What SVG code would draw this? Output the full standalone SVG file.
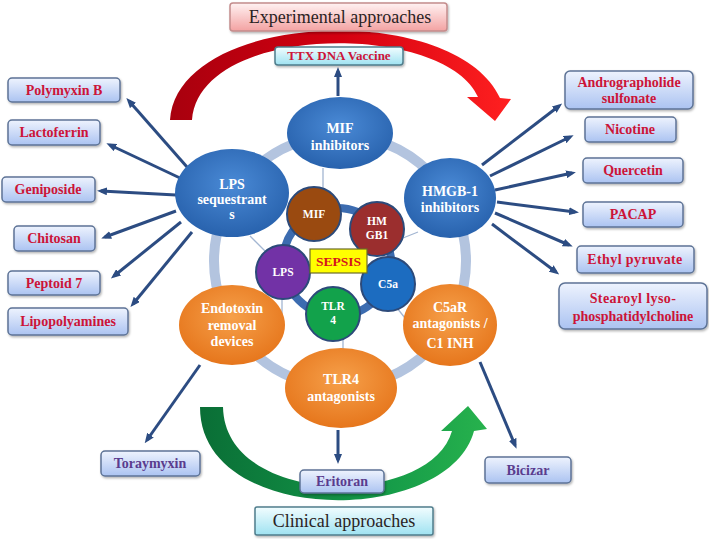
<svg xmlns="http://www.w3.org/2000/svg" width="709" height="539" viewBox="0 0 709 539">
<defs>
<linearGradient id="gBox" x1="0" y1="0" x2="0" y2="1"><stop offset="0" stop-color="#eef3fe"/><stop offset="1" stop-color="#abc3f1"/></linearGradient>
<linearGradient id="gCyan" x1="0" y1="0" x2="0" y2="1"><stop offset="0" stop-color="#f2fdff"/><stop offset="1" stop-color="#9fe2f1"/></linearGradient>
<linearGradient id="gPink" x1="0" y1="0" x2="0" y2="1"><stop offset="0" stop-color="#fff2f2"/><stop offset="1" stop-color="#f3a2a2"/></linearGradient>
<radialGradient id="gBlue" cx="0.5" cy="0.4" r="0.6"><stop offset="0" stop-color="#4a8ad6"/><stop offset="1" stop-color="#2862ad"/></radialGradient>
<radialGradient id="gOrange" cx="0.5" cy="0.4" r="0.6"><stop offset="0" stop-color="#f6a04a"/><stop offset="1" stop-color="#e6761c"/></radialGradient>
<linearGradient id="gRed" x1="0" y1="0" x2="1" y2="0"><stop offset="0" stop-color="#a8000e"/><stop offset="0.5" stop-color="#d40010"/><stop offset="1" stop-color="#ff2020"/></linearGradient>
<linearGradient id="gGreen" x1="0" y1="0" x2="1" y2="0"><stop offset="0" stop-color="#0a6e36"/><stop offset="0.6" stop-color="#139848"/><stop offset="1" stop-color="#27b24d"/></linearGradient>
<filter id="sh" x="-10%" y="-20%" width="130%" height="160%"><feDropShadow dx="1" dy="1.5" stdDeviation="1" flood-color="#000000" flood-opacity="0.3"/></filter>
<marker id="ah" markerUnits="userSpaceOnUse" markerWidth="10" markerHeight="8" refX="6" refY="4" orient="auto"><path d="M0,0 L10,4 L0,8 z" fill="#2c4c82"/></marker>
<style>
.box{fill:url(#gBox);stroke:#5d7396;stroke-width:1.5;filter:url(#sh)}
.cyan{fill:url(#gCyan);stroke:#4f7d8c;stroke-width:1.5;filter:url(#sh)}
.pink{fill:url(#gPink);stroke:#c48c8c;stroke-width:1.5;filter:url(#sh)}
.bt{font-family:"Liberation Serif",serif;font-weight:bold;font-size:14px;fill:#cc1438;text-anchor:middle}
.pt{font-family:"Liberation Serif",serif;font-weight:bold;font-size:14px;fill:#5a3c8e;text-anchor:middle}
.hd{font-family:"Liberation Serif",serif;font-size:18px;fill:#2a2323;text-anchor:middle}
.bl{fill:url(#gBlue)}
.or{fill:url(#gOrange)}
.et{font-family:"Liberation Serif",serif;font-weight:bold;font-size:14px;fill:#ffffff;text-anchor:middle}
.ct{font-family:"Liberation Serif",serif;font-weight:bold;font-size:11.5px;fill:#ffffff;text-anchor:middle}
.cc{stroke:#2c4a7a;stroke-width:2}
.ar{stroke:#2c4c82;stroke-width:3;fill:none;marker-end:url(#ah)}
.thin{stroke:#a3b6d2;stroke-width:1.3;fill:none}
</style>
</defs>
<rect width="709" height="539" fill="#ffffff"/>

<g id="bg-rings">
<path class="thin" d="M323,168 V192 M250,236 L266,252 M403,238 L418,232 M282,296 V320 M343,339 V350 M393,303 L405,318"/>
<circle cx="340" cy="261" r="126" fill="none" stroke="#b3c4df" stroke-width="10"/>
<circle cx="337" cy="262" r="54" fill="none" stroke="#3c6cb0" stroke-width="8"/>
</g>

<g id="connectors">
<line class="ar" x1="187" y1="167" x2="129" y2="101"/>
<line class="ar" x1="180" y1="178" x2="110" y2="145"/>
<line class="ar" x1="176" y1="195" x2="101" y2="191"/>
<line class="ar" x1="176" y1="211" x2="105" y2="237"/>
<line class="ar" x1="181" y1="222" x2="114" y2="276"/>
<line class="ar" x1="192" y1="232" x2="133" y2="304"/>
<line class="ar" x1="482" y1="165" x2="559" y2="106"/>
<line class="ar" x1="490" y1="176" x2="570" y2="137"/>
<line class="ar" x1="495" y1="190" x2="572" y2="173"/>
<line class="ar" x1="497" y1="202" x2="575" y2="212"/>
<line class="ar" x1="495" y1="213" x2="569" y2="245"/>
<line class="ar" x1="492" y1="224" x2="556" y2="272"/>
<line class="ar" x1="200" y1="365" x2="147" y2="440"/>
<line class="ar" x1="338" y1="430" x2="338" y2="460"/>
<line class="ar" x1="480" y1="362" x2="515" y2="445"/>
<line class="ar" x1="338" y1="96" x2="338" y2="71"/>
</g>

<g id="experimental-arrow">
<path d="M170,120 C178,10 455,0 500,98 L511,99 L495,121 L467,97 L478,97 C445,22 200,22 192,120 Z" fill="url(#gRed)"/>
</g>
<g id="clinical-arrow">
<path d="M200,407 C200,527 448,527 474,431 L487,429 L468,406 L441,431 L452,431 C430,508 225,508 223,407 Z" fill="url(#gGreen)"/>
</g>

<g id="mif-inhibitors"><ellipse class="bl" cx="340" cy="133" rx="53" ry="36"/><text class="et" x="340" y="133">MIF</text><text class="et" x="340" y="150">inhibitors</text></g>
<g id="lps-sequestrants"><ellipse class="bl" cx="232" cy="193" rx="57" ry="44"/><text class="et" x="232" y="189">LPS</text><text class="et" x="232" y="204">sequestrant</text><text class="et" x="232" y="219">s</text></g>
<g id="hmgb1-inhibitors"><ellipse class="bl" cx="450" cy="198" rx="46" ry="40"/><text class="et" x="450" y="196">HMGB-1</text><text class="et" x="450" y="212">inhibitors</text></g>
<g id="endotoxin-removal"><ellipse class="or" cx="232" cy="325" rx="53" ry="40"/><text class="et" x="232" y="313">Endotoxin</text><text class="et" x="232" y="330">removal</text><text class="et" x="232" y="346">devices</text></g>
<g id="c5ar-antagonists"><ellipse class="or" cx="450" cy="325" rx="47" ry="41"/><text class="et" x="450" y="312">C5aR</text><text class="et" x="450" y="328">antagonists /</text><text class="et" x="450" y="348">C1 INH</text></g>
<g id="tlr4-antagonists"><ellipse class="or" cx="341" cy="388" rx="56" ry="40"/><text class="et" x="341" y="384">TLR4</text><text class="et" x="341" y="401">antagonists</text></g>

<g id="mif"><circle class="cc" cx="314" cy="214" r="27" fill="#9a4a10"/><text class="ct" x="314" y="218">MIF</text></g>
<g id="hmgb1"><circle class="cc" cx="377" cy="229" r="27" fill="#9b2e2e"/><text class="ct" x="377" y="225">HM</text><text class="ct" x="377" y="239">GB1</text></g>
<g id="lps"><circle class="cc" cx="283" cy="272" r="27" fill="#7232a6"/><text class="ct" x="283" y="276">LPS</text></g>
<g id="c5a"><circle class="cc" cx="388" cy="284" r="27" fill="#1c6cc0"/><text class="ct" x="388" y="288">C5a</text></g>
<g id="tlr4"><circle class="cc" cx="333" cy="314" r="27" fill="#12a24b"/><text class="ct" x="333" y="310">TLR</text><text class="ct" x="333" y="324">4</text></g>
<g id="sepsis"><rect x="310" y="249" width="57" height="24" fill="#ffff00" stroke="#6b6b2a" stroke-width="1.2"/><text x="338.5" y="266" style="font-family:'Liberation Serif',serif;font-weight:bold;font-size:13.5px;fill:#d4141e;text-anchor:middle">SEPSIS</text></g>

<g id="experimental-approaches"><rect class="pink" x="230" y="3" width="217" height="28" rx="3"/><text class="hd" x="340" y="23">Experimental approaches</text></g>
<g id="ttx-dna-vaccine"><rect class="cyan" x="275" y="47" width="128" height="18" rx="3"/><text class="bt" x="339" y="60" style="font-size:13px">TTX DNA Vaccine</text></g>
<g id="clinical-approaches"><rect class="cyan" x="255" y="507" width="178" height="28" rx="2"/><text class="hd" x="344" y="527">Clinical approaches</text></g>

<g id="polymyxin-b"><rect class="box" x="8" y="78" width="112" height="24" rx="4"/><text class="bt" x="64" y="95">Polymyxin B</text></g>
<g id="lactoferrin"><rect class="box" x="8" y="120" width="92" height="25" rx="4"/><text class="bt" x="54" y="137">Lactoferrin</text></g>
<g id="geniposide"><rect class="box" x="2" y="177" width="93" height="25" rx="4"/><text class="bt" x="48" y="194">Geniposide</text></g>
<g id="chitosan"><rect class="box" x="14" y="226" width="81" height="25" rx="4"/><text class="bt" x="54" y="243">Chitosan</text></g>
<g id="peptoid-7"><rect class="box" x="8" y="271" width="92" height="24" rx="4"/><text class="bt" x="54" y="288">Peptoid 7</text></g>
<g id="lipopolyamines"><rect class="box" x="8" y="308" width="120" height="27" rx="4"/><text class="bt" x="68" y="326">Lipopolyamines</text></g>

<g id="andrographolide"><rect class="box" x="565" y="71" width="128" height="38" rx="5"/><text class="bt" x="629" y="87">Andrographolide</text><text class="bt" x="629" y="103">sulfonate</text></g>
<g id="nicotine"><rect class="box" x="585" y="117" width="91" height="25" rx="4"/><text class="bt" x="630" y="134">Nicotine</text></g>
<g id="quercetin"><rect class="box" x="583" y="158" width="100" height="25" rx="4"/><text class="bt" x="633" y="175">Quercetin</text></g>
<g id="pacap"><rect class="box" x="583" y="202" width="100" height="25" rx="4"/><text class="bt" x="633" y="219">PACAP</text></g>
<g id="ethyl-pyruvate"><rect class="box" x="577" y="246" width="117" height="27" rx="4"/><text class="bt" x="635" y="264" style="letter-spacing:0.4px">Ethyl pyruvate</text></g>
<g id="stearoyl"><rect class="box" x="559" y="283" width="148" height="46" rx="6"/><text class="bt" x="633" y="303" style="letter-spacing:0.4px">Stearoyl lyso-</text><text class="bt" x="633" y="321">phosphatidylcholine</text></g>

<g id="toraymyxin"><rect class="box" x="101" y="451" width="99" height="25" rx="4"/><text class="pt" x="150" y="468">Toraymyxin</text></g>
<g id="eritoran"><rect class="box" x="300" y="470" width="84" height="23" rx="4"/><text class="pt" x="342" y="486">Eritoran</text></g>
<g id="bicizar"><rect class="box" x="485" y="457" width="86" height="26" rx="4"/><text class="pt" x="528" y="475">Bicizar</text></g>
</svg>
